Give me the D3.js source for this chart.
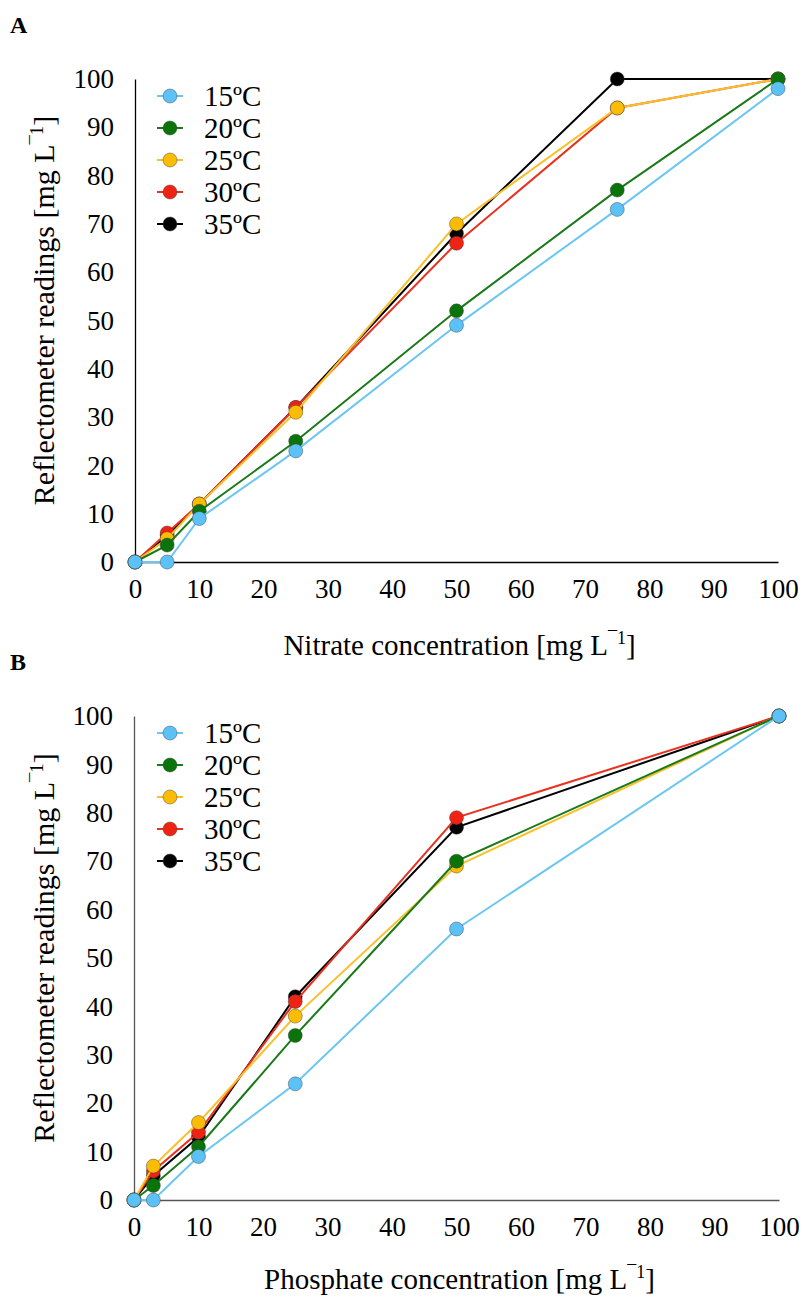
<!DOCTYPE html>
<html>
<head>
<meta charset="utf-8">
<script src="https://cdn.jsdelivr.net/npm/d3@7"></script>
<style>
  body { margin: 0; background: #fff; }
  svg { display: block; font-family: "Liberation Serif", "Times New Roman", serif; }
</style>
</head>
<body>
<svg id="chart" width="803" height="1298"></svg>
<script>
// Temperatures (series) and their colours
const temps = ["15ºC", "20ºC", "25ºC", "30ºC", "35ºC"];
const fillColors = ["#5BC1F7", "#0A730A", "#FBBC05", "#EE2314", "#000000"];
const lineColors = ["#6CC6F2", "#1A7A1A", "#F9C02A", "#E8321F", "#000000"];

// Panel A: nitrate
const nitrateConc = [0, 5, 10, 25, 50, 75, 100];
const nitrate15 = [0, 0, 9, 23, 49, 73, 98];
const nitrate20 = [0, 3.5, 10.5, 25, 52, 77, 100];
const nitrate25 = [0, 4.8, 12, 31, 70, 94, 100];
const nitrate30 = [0, 6, 12, 32, 66, 94, 100];
const nitrate35 = [0, 5.5, 12, 32, 68, 100, 100];

// Panel B: phosphate
const phosphateConc = [0, 3, 10, 25, 50, 100];
const phosphate15 = [0, 0, 9, 24, 56, 100];
const phosphate20 = [0, 3, 11, 34, 70, 100];
const phosphate25 = [0, 7, 16, 38, 69, 100];
const phosphate30 = [0, 6, 14, 41, 79, 100];
const phosphate35 = [0, 5, 13, 42, 77, 100];

const xTicks = [0, 10, 20, 30, 40, 50, 60, 70, 80, 90, 100];
const yTicks = [0, 10, 20, 30, 40, 50, 60, 70, 80, 90, 100];

const svg = d3.select("#chart");
const TICK_FS = 27;
const FS = 29;
const YT_FS = 30;

function drawPanel(opts) {
  const { letter, conc, series, xTitle, left, right, top, bottom, axisColor, legendTop, titleGap } = opts;
  const g = svg.append("g");
  const x = d3.scaleLinear().domain([0, 100]).range([left, right]);
  const y = d3.scaleLinear().domain([0, 100]).range([bottom, top]);

  // panel letter
  g.append("text").attr("x", 10).attr("y", top - 46)
    .attr("font-weight", "bold").attr("font-size", 24).text(letter);

  // axes (no tick marks, labels only)
  const xAxis = g.append("g").attr("transform", `translate(0,${bottom})`)
    .call(d3.axisBottom(x).tickValues(xTicks).tickSize(0).tickPadding(17));
  const yAxis = g.append("g").attr("transform", `translate(${left},0)`)
    .call(d3.axisLeft(y).tickValues(yTicks).tickSize(0).tickPadding(21));
  [xAxis, yAxis].forEach(a => {
    a.select(".domain").attr("stroke", axisColor).attr("stroke-width", 1.3);
    a.selectAll("text").attr("font-family", "Liberation Serif").attr("font-size", TICK_FS).attr("fill", "#000");
  });

  // axis titles
  const xt = g.append("text").attr("x", (left + right) / 2 + 3).attr("y", bottom + titleGap)
    .attr("text-anchor", "middle").attr("font-size", FS);
  xt.append("tspan").text(xTitle + " [mg L");
  xt.append("tspan").attr("font-size", FS * 0.62).attr("dy", -11).text("\u00AF1");
  xt.append("tspan").attr("dy", 11).text("]");

  const yt = g.append("text")
    .attr("transform", `translate(54,${(top + bottom) / 2 - 10}) rotate(-90)`)
    .attr("text-anchor", "middle").attr("font-size", YT_FS);
  yt.append("tspan").text("Reflectometer readings [mg L");
  yt.append("tspan").attr("font-size", YT_FS * 0.62).attr("dy", -11).text("\u00AF1");
  yt.append("tspan").attr("dy", 11).text("]");

  // series: drawn from 35ºC down to 15ºC so the cooler series sit in front
  const line = d3.line().x((d, i) => x(conc[i])).y(d => y(d));
  const order = [4, 3, 2, 1, 0];
  order.forEach(k => {
    const s = g.append("g");
    s.append("path").datum(series[k]).attr("d", line)
      .attr("fill", "none").attr("stroke", lineColors[k]).attr("stroke-width", 2);
    s.selectAll("circle").data(series[k]).join("circle")
      .attr("cx", (d, i) => x(conc[i])).attr("cy", d => y(d)).attr("r", 7)
      .attr("fill", fillColors[k]).attr("stroke", "rgba(60,60,60,0.55)").attr("stroke-width", 0.8);
  });

  // legend
  const lg = g.append("g");
  temps.forEach((t, k) => {
    const cy = legendTop + k * 32;
    lg.append("line").attr("x1", 157).attr("x2", 183).attr("y1", cy).attr("y2", cy)
      .attr("stroke", lineColors[k]).attr("stroke-width", 2);
    lg.append("circle").attr("cx", 170).attr("cy", cy).attr("r", 7)
      .attr("fill", fillColors[k]).attr("stroke", "rgba(60,60,60,0.55)").attr("stroke-width", 0.8);
    lg.append("text").attr("x", 204).attr("y", cy).attr("dy", "0.35em")
      .attr("font-size", FS).text(t);
  });
}

drawPanel({
  letter: "A", conc: nitrateConc,
  series: [nitrate15, nitrate20, nitrate25, nitrate30, nitrate35],
  xTitle: "Nitrate concentration",
  left: 135, right: 778, top: 79, bottom: 562, axisColor: "#000", legendTop: 96, titleGap: 93
});

drawPanel({
  letter: "B", conc: phosphateConc,
  series: [phosphate15, phosphate20, phosphate25, phosphate30, phosphate35],
  xTitle: "Phosphate concentration",
  left: 134, right: 779, top: 716, bottom: 1200, axisColor: "#555", legendTop: 733, titleGap: 89
});
</script>
</body>
</html>
